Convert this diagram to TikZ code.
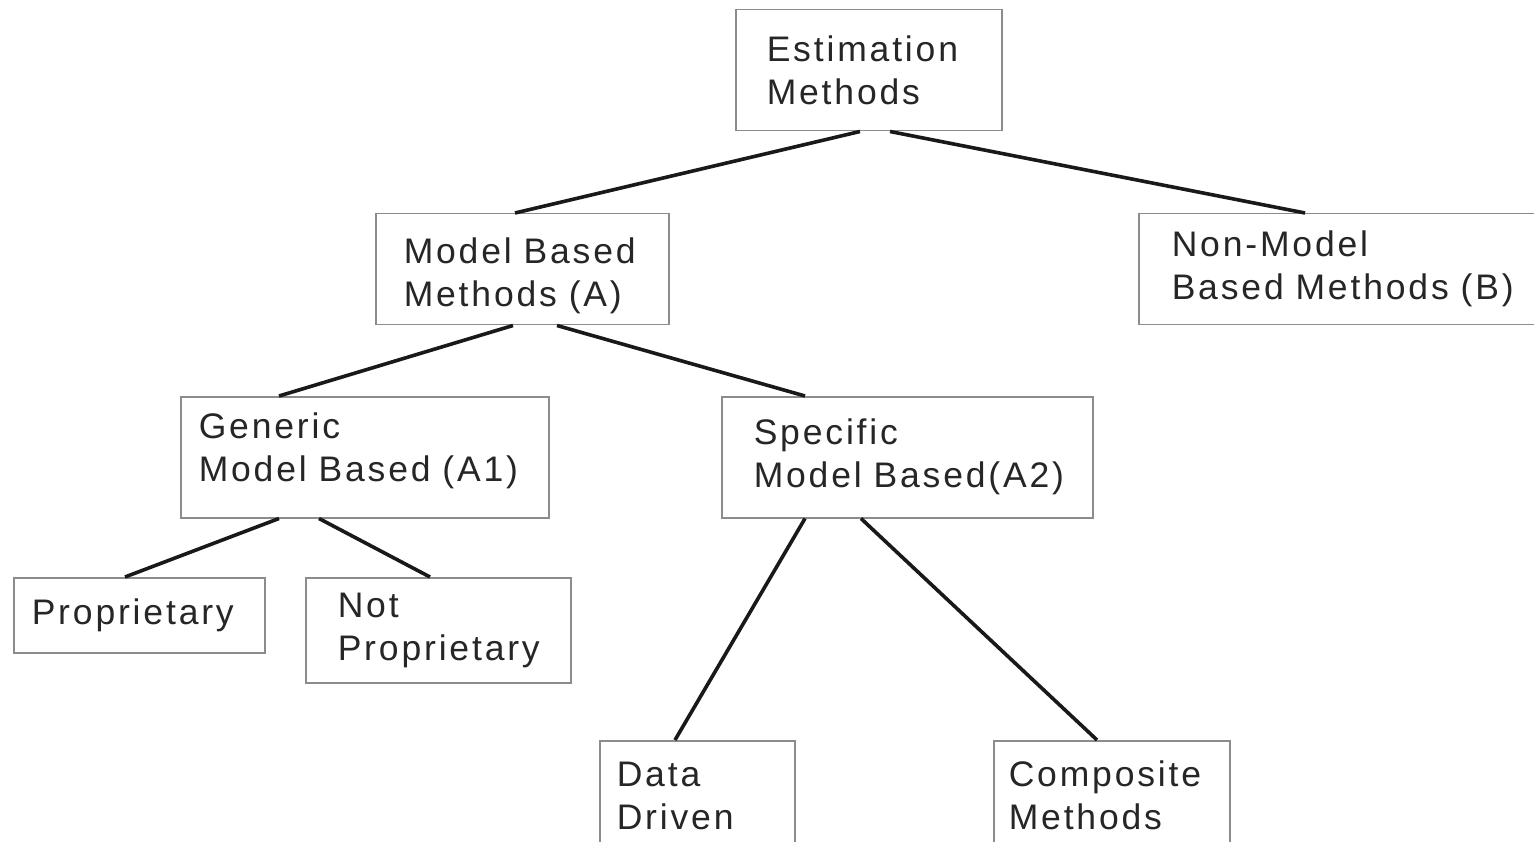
\documentclass[tikz,border=0pt]{standalone}
\usepackage{fontspec}
\setmainfont[LetterSpace=8,WordSpace=1.8]{Liberation Sans}
\usetikzlibrary{calc}
\tikzset{
  box/.style={draw=black!45, line width=1.5pt, rectangle, anchor=north west, align=left,
    font=\fontsize{35.5}{43}\selectfont, text=black!85, inner ysep=0pt},
  link/.style={line width=3.6pt, draw=black!90}
}
\begin{document}
\begin{tikzpicture}[x=1pt,y=-1pt]
\clip (0,0) rectangle (1534,842);
\fill[white] (0,0) rectangle (1534,842);
\node[box, minimum width=266, minimum height=121, text width=204, inner xsep=31] (est) at (735,9) {Estimation\\Methods};
\node[box, minimum width=293, minimum height=111, text width=237, inner xsep=28, text height=38] (mb) at (375,213) {Model~Based\\Methods~(A)};
\node[box, minimum width=396, minimum height=111, text width=330, inner xsep=33] (nm) at (1138,213) {Non-Model\\\mbox{Based Methods (B)}};
\node[box, minimum width=368, minimum height=121, text width=332, inner xsep=18, text height=12] (gen) at (180,396) {Generic\\Model~Based~(A1)};
\node[box, minimum width=371, minimum height=121, text width=307, inner xsep=32] (spec) at (721,396) {Specific\\Model~Based(A2)};
\node[box, minimum width=251, minimum height=75, text width=215, inner xsep=18] (prop) at (13,577) {Proprietary};
\node[box, minimum width=265, minimum height=105, text width=201, inner xsep=32] (notp) at (305,577) {Not\\Proprietary};
\node[box, minimum width=195, minimum height=110, text width=161, inner xsep=17] (data) at (599,740) {Data\\Driven};
\node[box, minimum width=236, minimum height=110, text width=206, inner xsep=15] (comp) at (993,740) {Composite\\Methods};
\draw[link] ($(est.south west)+(125,0)$) -- ($(mb.north west)+(140,0)$);
\draw[link] ($(est.south west)+(155,0)$) -- ($(nm.north west)+(167,0)$);
\draw[link] ($(mb.south west)+(138,0)$) -- ($(gen.north west)+(99,0)$);
\draw[link] ($(mb.south west)+(182,0)$) -- ($(spec.north west)+(84,0)$);
\draw[link] ($(gen.south west)+(99,0)$) -- ($(prop.north west)+(112,0)$);
\draw[link] ($(gen.south west)+(139,0)$) -- ($(notp.north west)+(125,0)$);
\draw[link] ($(spec.south west)+(84,0)$) -- ($(data.north west)+(76,0)$);
\draw[link] ($(spec.south west)+(140,0)$) -- ($(comp.north west)+(104,0)$);
\end{tikzpicture}
\end{document}
